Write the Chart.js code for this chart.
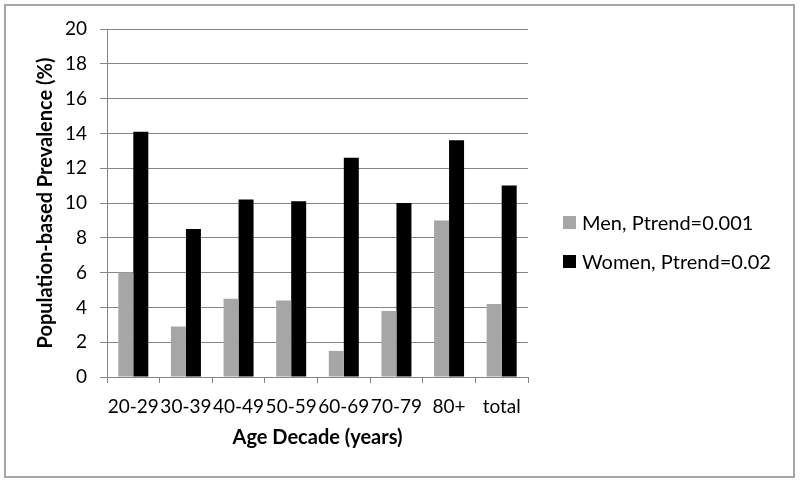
<!DOCTYPE html>
<html>
<head>
<meta charset="utf-8">
<script src="https://cdn.jsdelivr.net/npm/chart.js@4.4.1/dist/chart.umd.min.js"></script>
<style>
  html, body { margin: 0; padding: 0; background: #fff; }
  #wrap { position: relative; width: 800px; height: 484px; }
  #legend { position: absolute; left: 563px; top: 0; font-family: Lato, 'Open Sans', sans-serif; font-size: 20px; color: #000; }
  .item { position: absolute; left: 0; white-space: nowrap; display: flex; align-items: center; height: 24px; }
  .swatch { width: 13px; height: 13px; margin-right: 6px; }
</style>
</head>
<body>
<div id="wrap">
  <canvas id="chart" width="800" height="484"></canvas>
  <div id="legend"></div>
</div>
<script>
const ageGroups = ['20-29', '30-39', '40-49', '50-59', '60-69', '70-79', '80+', 'total'];
const menValues = [6.0, 2.9, 4.5, 4.4, 1.5, 3.8, 9.0, 4.2];
const womenValues = [14.1, 8.5, 10.2, 10.1, 12.6, 10.0, 13.6, 11.0];
const seriesLabels = ['Men, Ptrend=0.001', 'Women, Ptrend=0.02'];
const seriesColors = ['#a6a6a6', '#000000'];

const FONT = "Lato, 'Open Sans', sans-serif";
const axisGrey = '#868686';

// Excel-style outer frame around the whole chart
const framePlugin = {
    id: 'frame',
    beforeDraw: (chart) => {
        const ctx = chart.ctx;
        ctx.save();
        ctx.fillStyle = '#fff';
        ctx.fillRect(0, 0, chart.width, chart.height);
        ctx.strokeStyle = '#a6a6a6';
        ctx.lineWidth = 2;
        ctx.strokeRect(5, 5, 789, 472);
        ctx.restore();
    }
};

const chart = new Chart(document.getElementById('chart'), {
    type: 'bar',
    data: {
        labels: ageGroups,
        datasets: seriesLabels.map((label, i) => ({
            label,
            data: i === 0 ? menValues : womenValues,
            backgroundColor: seriesColors[i],
            categoryPercentage: 0.57,
            barPercentage: 1.0
        }))
    },
    options: {
        responsive: false,
        animation: false,
        layout: { padding: { top: 29, left: 10, right: 272, bottom: 24 } },
        plugins: {
            legend: { display: false },
            tooltip: { enabled: false }
        },
        scales: {
            x: {
                afterFit: (scale) => { scale.height = 83; },
                grid: { offset: true, drawOnChartArea: false, drawTicks: true, tickLength: 6, color: axisGrey },
                border: { color: axisGrey, width: 1 },
                ticks: { color: '#000', padding: 12, maxRotation: 0, autoSkip: false, font: { family: FONT, size: 19 } },
                title: { display: true, text: 'Age Decade (years)', color: '#000', padding: { top: 0, bottom: 10 }, font: { family: FONT, size: 20, weight: 'bold' } }
            },
            y: {
                min: 0,
                max: 20,
                afterFit: (scale) => { scale.width = 97; },
                ticks: { stepSize: 2, color: '#000', padding: 13, font: { family: FONT, size: 19 } },
                grid: { color: axisGrey, tickLength: 7 },
                border: { color: axisGrey, width: 1 },
                title: { display: true, text: 'Population-based Prevalence (%)', color: '#000', padding: { top: 24, bottom: 0 }, font: { family: FONT, size: 20, weight: 'bold' } }
            }
        }
    },
    plugins: [framePlugin]
});

// legend built from the same series arrays
const legendTops = [210, 249];
const legendEl = document.getElementById('legend');
seriesLabels.forEach((label, i) => {
    const item = document.createElement('div');
    item.className = 'item';
    item.style.top = legendTops[i] + 'px';
    item.innerHTML = `<span class="swatch" style="background:${seriesColors[i]}"></span><span>${label}</span>`;
    legendEl.appendChild(item);
});
</script>
</body>
</html>
